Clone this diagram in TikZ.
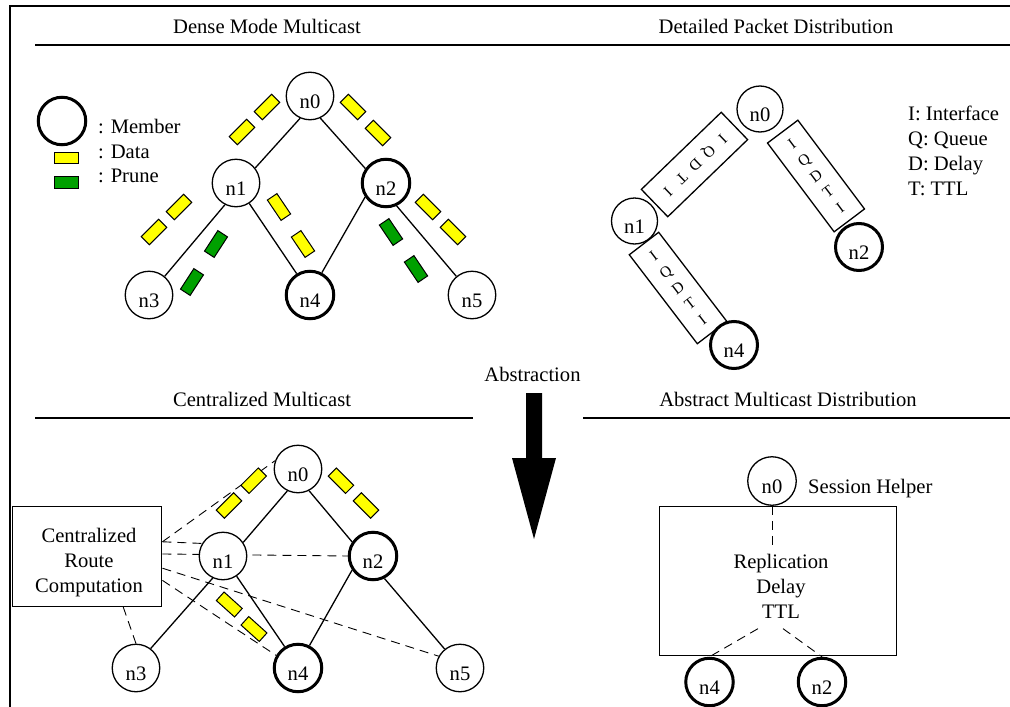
\documentclass[tikz,border=0pt]{standalone}
\usepackage{fontspec}
\setmainfont{Liberation Serif}
\usetikzlibrary{calc}
\pgfdeclarelayer{background}
\pgfsetlayers{background,main}
\definecolor{pyellow}{RGB}{255,255,0}
\definecolor{pgreen}{RGB}{0,160,0}
\begin{document}
\begin{tikzpicture}[x=1pt,y=-1pt,font=\fontsize{20.6}{25}\selectfont,
  nd/.style={circle,draw,fill=white,line width=1.3pt,minimum size=47.5pt,inner sep=0pt,text height=24pt,text depth=0pt},
  mb/.style={nd,line width=3pt},
  pk/.style={draw,rectangle,line width=1pt,minimum width=24.5pt,minimum height=11.5pt,inner sep=0pt},
  yp/.style={pk,fill=pyellow},
  gp/.style={pk,fill=pgreen},
  lnk/.style={line width=1.3pt},
  dsh/.style={dash pattern=on 9pt off 6pt,line width=0.9pt},
  hrule/.style={line width=1.8pt},
  tx/.style={inner sep=0pt},
  qbox/.style={draw,line width=1.3pt,inner sep=0pt,font=\fontsize{15.5}{20}\selectfont},
]
\useasboundingbox (0,0) rectangle (1010,707);

% frame and rules
\draw[line width=2.2pt] (1010,6) -- (10,6) -- (10,707);
\draw[hrule] (35,45) -- (1010,45);
\draw[hrule] (35,418) -- (473,418);
\draw[hrule] (583,418) -- (1010,418);

% titles
\node[tx,anchor=base] (t1) at (267,33) {Dense Mode Multicast};
\node[tx,anchor=base] (t2) at (776,33) {Detailed Packet Distribution};
\node[tx,anchor=base] (t3) at (262,406) {Centralized Multicast};
\node[tx,anchor=base] (t4) at (788,406) {Abstract Multicast Distribution};
\node[tx,anchor=base] (t5) at (532.5,381) {Abstraction};

% big arrow
\fill (526,393) -- (542,393) -- (542,458) -- (556,458) -- (534,539) -- (512,458) -- (526,458) -- cycle;

% ---------- Dense mode multicast ----------
\node[mb] (mem) at (62,121) {};
\node[tx,anchor=base west] (memt) at (98,133) {: Member};
\node[yp] (ldat) at (66.5,158) {};
\node[tx,anchor=base west] (datt) at (98,158) {: Data};
\node[gp] (lpr) at (66.5,182.5) {};
\node[tx,anchor=base west] (prt) at (98,182) {: Prune};

\node[nd] (a0) at (310,96) {n0};
\node[nd] (a1) at (236,183) {n1};
\node[mb] (a2) at (386,183) {n2};
\node[nd] (a3) at (149,295) {n3};
\node[mb] (a4) at (310,295) {n4};
\node[nd] (a5) at (472,295) {n5};
\draw[lnk] (a0.246) -- (a1.38);
\draw[lnk] (a0.295) -- (a2.145);
\draw[lnk] (a1.243) -- (a3.50);
\draw[lnk] (a1.303) -- (a4.122);
\draw[lnk] (a2.214) -- (a4.62);
\draw[lnk] (a2.295) -- (a5.130);

\node[yp,rotate=45] (p1) at (267,107) {};
\node[yp,rotate=45] (p2) at (242,132) {};
\node[yp,rotate=-45] (p3) at (353,107) {};
\node[yp,rotate=-45] (p4) at (378,133) {};
\node[yp,rotate=45] (p5) at (179,207) {};
\node[yp,rotate=45] (p6) at (154,232) {};
\node[gp,rotate=57] (p7) at (216,244) {};
\node[gp,rotate=57] (p8) at (192,282) {};
\node[yp,rotate=-56] (p9) at (279,207) {};
\node[yp,rotate=-56] (p10) at (303,244) {};
\node[gp,rotate=-56] (p11) at (391,232) {};
\node[gp,rotate=-56] (p12) at (416,269) {};
\node[yp,rotate=-45] (p13) at (428,207) {};
\node[yp,rotate=-45] (p14) at (453,232) {};

% ---------- Detailed packet distribution ----------
\node[nd,minimum size=46pt] (b0) at (760,109) {n0};
\node[nd,minimum size=46pt] (b1) at (634.5,221) {n1};
\node[mb,minimum size=47pt] (b2) at (859,247) {n2};
\node[mb,minimum size=47pt] (b4) at (734,345) {n4};
\node[qbox,minimum width=111pt,minimum height=38pt,rotate=224] (q1) at (694.5,164.5)
  {\makebox[19pt]{I}\makebox[19pt]{Q}\makebox[19pt]{D}\makebox[19pt]{T}\makebox[19pt]{I}};
\node[qbox,minimum width=38pt,minimum height=111pt,rotate=36.9,align=center] (q2) at (816,176) {I\\Q\\D\\T\\I};
\node[qbox,minimum width=37pt,minimum height=112pt,rotate=37.4,align=center] (q3) at (678,288) {I\\Q\\D\\T\\I};
\node[tx,anchor=base west] (li) at (908,120) {I: Interface};
\node[tx,anchor=base west] (lq) at (908,145) {Q: Queue};
\node[tx,anchor=base west] (ld) at (908,170) {D: Delay};
\node[tx,anchor=base west] (lt) at (908,195) {T: TTL};

% ---------- Centralized multicast ----------
\node[draw,line width=1.4pt,minimum width=149.5pt,minimum height=99.5pt,inner sep=0pt] (crc) at (87,556.5) {};
\node[tx,align=center] (crct) at (89,563) {Centralized\\Route\\Computation};
\node[nd] (c0) at (298,469) {n0};
\node[nd] (c1) at (223,556) {n1};
\node[mb] (c2) at (373,556) {n2};
\node[nd] (c3) at (136,668) {n3};
\node[mb] (c4) at (298,668) {n4};
\node[nd] (c5) at (460,668) {n5};
\draw[lnk] (c0.244) -- (c1.34);
\draw[lnk] (c0.297) -- (c2.146);
\draw[lnk] (c1.245) -- (c3.53);
\draw[lnk] (c1.304) -- (c4.122);
\draw[lnk] (c2.214) -- (c4.63);
\draw[lnk] (c2.297) -- (c5.129);
\coordinate (e1) at ($(crc.north east)!0.354!(crc.south east)$);
\coordinate (e2) at ($(crc.north east)!0.475!(crc.south east)$);
\coordinate (e3) at ($(crc.north east)!0.616!(crc.south east)$);
\coordinate (e4) at ($(crc.north east)!0.737!(crc.south east)$);
\coordinate (e5) at ($(crc.south west)!0.74!(crc.south east)$);
\begin{pgfonlayer}{background}
\draw[dsh] (e1) -- (c0.160);
\draw[dsh] (e1) -- (c1.149);
\draw[dsh] (e2) -- (c2.west);
\draw[dsh] (e3) -- (c5.151);
\draw[dsh] (e4) -- (c4.150);
\draw[dsh] (e5) -- (c3.north);
\end{pgfonlayer}
\node[yp,rotate=45] (r1) at (253.7,480.7) {};
\node[yp,rotate=45] (r2) at (229,505.5) {};
\node[yp,rotate=-45] (r3) at (341,480.7) {};
\node[yp,rotate=-45] (r4) at (366,505.5) {};
\node[yp,rotate=-42] (r5) at (229.3,604.5) {};
\node[yp,rotate=-42] (r6) at (254,629) {};

% ---------- Abstract multicast distribution ----------
\node[draw,line width=1.4pt,minimum width=237.5pt,minimum height=149pt,inner sep=0pt] (abox) at (778,581.2) {};
\node[nd,minimum size=48.5pt] (d0) at (772,481) {n0};
\node[tx,anchor=base west] (sh) at (808,493) {Session Helper};
\node[align=center,inner sep=8pt] (rdt) at (781,586.3) {Replication\\Delay\\TTL};
\node[mb] (d4) at (709.5,682) {n4};
\node[mb] (d2) at (822,682) {n2};
\draw[dsh] (d0.south) -- (d0.south |- rdt.north);
\draw[dsh] ($(rdt.south)+(-23,2)$) -- (d4.north);
\draw[dsh] ($(rdt.south)+(2,2)$) -- (d2.north);
\end{tikzpicture}
\end{document}
